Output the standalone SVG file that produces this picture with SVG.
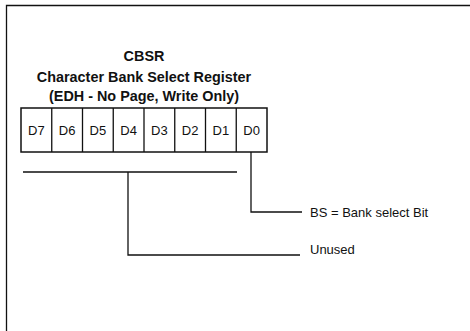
<svg xmlns="http://www.w3.org/2000/svg" width="470" height="331" viewBox="0 0 470 331">
<style>
.t{font-family:"Liberation Sans",Arial,sans-serif;fill:#111}
.h{font-size:14.4px;font-weight:bold;text-anchor:middle}
.c{font-size:13px;text-anchor:middle}
.l{font-size:13px}
.ln{stroke:#111;stroke-width:1.3;fill:none}
.bx{stroke:#111;stroke-width:1.5;fill:#fff}
</style>
<rect width="470" height="331" fill="#fff"/>
<g id="frame"><path class="ln" d="M6.5,331 V5.5 H470" stroke-width="1.8"/></g>
<g id="title">
<text class="t h" x="144" y="61">CBSR</text>
<text class="t h" x="144" y="82">Character Bank Select Register</text>
<text class="t h" x="144" y="101">(EDH - No Page, Write Only)</text>
</g>
<g id="register">
<rect class="bx" x="21" y="108" width="246" height="44"/>
<path class="ln" d="M51.75,108 V152 M82.5,108 V152 M113.25,108 V152 M144,108 V152 M174.75,108 V152 M205.5,108 V152 M236.25,108 V152" stroke-width="1.5"/>
<text class="t c" x="36.4" y="135">D7</text>
<text class="t c" x="67.1" y="135">D6</text>
<text class="t c" x="97.9" y="135">D5</text>
<text class="t c" x="128.6" y="135">D4</text>
<text class="t c" x="159.4" y="135">D3</text>
<text class="t c" x="190.1" y="135">D2</text>
<text class="t c" x="220.9" y="135">D1</text>
<text class="t c" x="251.6" y="135">D0</text>
</g>
<g id="connectors">
<path class="ln" d="M251,152 V212 H302"/>
<path class="ln" d="M23,172 H237 M128,172 V255 H300"/>
</g>
<g id="label-bs"><text class="t l" x="310" y="217">BS = Bank select Bit</text></g>
<g id="label-unused"><text class="t l" x="310" y="254">Unused</text></g>
</svg>
